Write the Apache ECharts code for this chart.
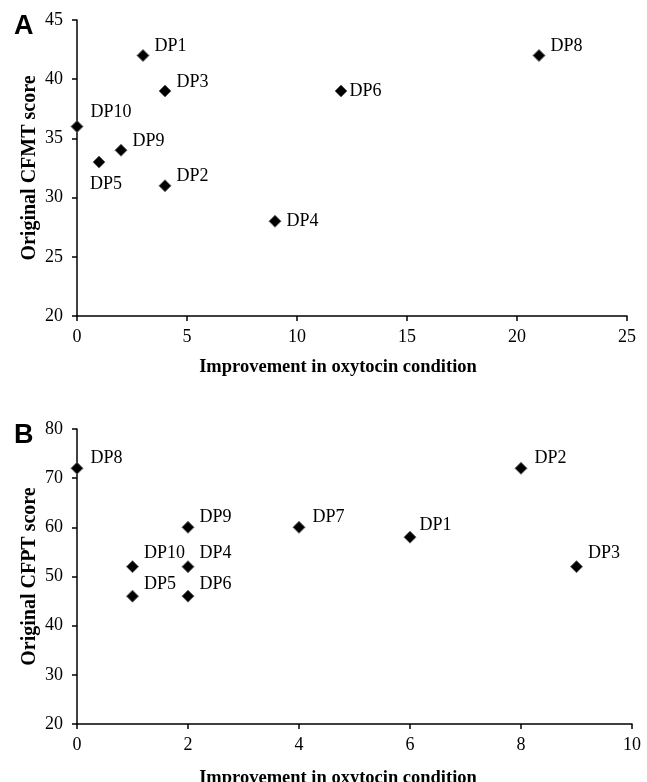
<!DOCTYPE html>
<html>
<head>
<meta charset="utf-8">
<script src="https://cdn.jsdelivr.net/npm/echarts@6/dist/echarts.min.js"></script>
<style>html,body{margin:0;padding:0;background:#fff}#c{width:647px;height:782px}</style>
</head>
<body>
<div id="c"></div>
<script>
// Panel A: CFMT
const namesA = ['DP1','DP2','DP3','DP4','DP5','DP6','DP8','DP9','DP10'];
const improvementA = [3, 4, 4, 9, 1, 12, 21, 2, 0];
const cfmtA = [42, 31, 39, 28, 33, 39, 42, 34, 36];
const xTicksA = [0, 5, 10, 15, 20, 25];
const yTicksA = [20, 25, 30, 35, 40, 45];

// Panel B: CFPT
const namesB = ['DP1','DP2','DP3','DP4','DP5','DP6','DP7','DP8','DP9','DP10'];
const improvementB = [6, 8, 9, 2, 1, 2, 4, 0, 2, 1];
const cfptB = [58, 72, 52, 52, 46, 46, 60, 72, 60, 52];
const xTicksB = [0, 2, 4, 6, 8, 10];
const yTicksB = [20, 30, 40, 50, 60, 70, 80];

const serif = 'Liberation Serif';

// label placement (style, not data)
const labelA = {
  DP1: {position: 'right', offset: [0, -9]},
  DP2: {position: 'right', offset: [0, -9]},
  DP3: {position: 'right', offset: [0, -9]},
  DP4: {position: 'right', offset: [0, 0]},
  DP5: {position: 'bottom', offset: [7, 2]},
  DP6: {position: 'right', offset: [-3, 0]},
  DP8: {position: 'right', offset: [0, -9]},
  DP9: {position: 'right', offset: [0, -9]},
  DP10: {position: 'right', offset: [2, -14]}
};
const labelB = {
  DP1: {position: 'right', offset: [-2, -12]},
  DP2: {position: 'right', offset: [2, -10]},
  DP3: {position: 'right', offset: [0, -13]},
  DP4: {position: 'right', offset: [0, -13]},
  DP5: {position: 'right', offset: [0, -12]},
  DP6: {position: 'right', offset: [0, -12]},
  DP7: {position: 'right', offset: [2, -10]},
  DP8: {position: 'right', offset: [2, -10]},
  DP9: {position: 'right', offset: [0, -10]},
  DP10: {position: 'right', offset: [0, -13]}
};

function build(names, xs, ys, lbl) {
  return names.map((n, i) => ({
    name: n,
    value: [xs[i], ys[i]],
    label: Object.assign({show: true, formatter: n, distance: 5, color: '#000',
      fontFamily: serif, fontSize: 18}, lbl[n])
  }));
}

function xAxis(gridIndex, ticks, shift, gap) {
  return {
    type: 'value', gridIndex,
    min: ticks[0], max: ticks[ticks.length - 1], interval: ticks[1] - ticks[0],
    name: 'Improvement in oxytocin condition',
    nameLocation: 'middle', nameGap: gap,
    nameTextStyle: {fontFamily: serif, fontWeight: 'bold', fontSize: 18.5, color: '#000',
      padding: [0, shift, 0, 0]},
    axisLine: {show: true, onZero: false, lineStyle: {color: '#000', width: 1.5}},
    axisTick: {show: true, length: 5, lineStyle: {color: '#000', width: 1.5}},
    axisLabel: {fontFamily: serif, fontSize: 18, color: '#000', margin: 12},
    splitLine: {show: false}
  };
}
function yAxis(gridIndex, ticks, name) {
  return {
    type: 'value', gridIndex,
    min: ticks[0], max: ticks[ticks.length - 1], interval: ticks[1] - ticks[0],
    name,
    nameLocation: 'middle', nameGap: 37, nameRotate: 90, nameMoveOverlap: false,
    nameTextStyle: {fontFamily: serif, fontWeight: 'bold', fontSize: 20, color: '#000'},
    axisLine: {show: true, onZero: false, lineStyle: {color: '#000', width: 1.5}},
    axisTick: {show: true, length: 5, lineStyle: {color: '#000', width: 1.5}},
    axisLabel: {fontFamily: serif, fontSize: 18, color: '#000', margin: 14},
    splitLine: {show: false}
  };
}

function series(idx, data) {
  return {
    type: 'scatter', xAxisIndex: idx, yAxisIndex: idx,
    symbol: 'diamond', symbolSize: 12,
    itemStyle: {color: '#000', borderColor: '#666', borderWidth: 1, opacity: 1},
    label: {color: '#000', fontFamily: serif, fontSize: 18},
    data,
    silent: true
  };
}

const chart = echarts.init(document.getElementById('c'));
chart.setOption({
  animation: false,
  backgroundColor: '#fff',
  title: [
    {text: 'A', left: 9, top: 8, textStyle: {fontFamily: 'Liberation Sans', fontWeight: 'bold', fontSize: 27, color: '#000'}},
    {text: 'B', left: 9, top: 417, textStyle: {fontFamily: 'Liberation Sans', fontWeight: 'bold', fontSize: 27, color: '#000'}}
  ],
  grid: [
    {left: 77, right: 20, top: 20, height: 296, outerBoundsMode: 'none', containLabel: false},
    {left: 77, right: 15, top: 429, height: 295, outerBoundsMode: 'none', containLabel: false}
  ],
  xAxis: [xAxis(0, xTicksA, 28, 42), xAxis(1, xTicksB, 33, 45)],
  yAxis: [yAxis(0, yTicksA, 'Original CFMT score'), yAxis(1, yTicksB, 'Original CFPT score')],
  series: [
    series(0, build(namesA, improvementA, cfmtA, labelA)),
    series(1, build(namesB, improvementB, cfptB, labelB))
  ]
});
</script>
</body>
</html>
